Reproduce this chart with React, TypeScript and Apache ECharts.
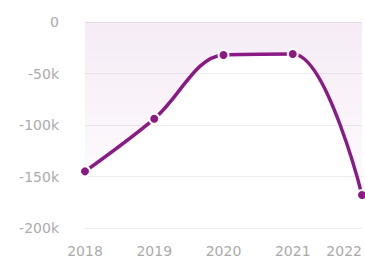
import React, { useEffect, useRef } from "react";
import * as echarts from "echarts";

const years = ["2018", "2019", "2020", "2021", "2022"];
const values = [-145000, -94000, -32000, -31000, -168000];
const yTicks = { min: -200000, max: 0, interval: 50000 };

export default function App() {
  const ref = useRef<HTMLDivElement>(null);
  useEffect(() => {
    if (!ref.current) return;
    const chart = echarts.init(ref.current, null, { renderer: "svg" });
    chart.setOption({
      animation: false,
      grid: { left: 85, right: 3, top: 22, bottom: 31 },
      xAxis: {
        type: "category",
        data: years,
        boundaryGap: false,
        axisLine: { show: false },
        axisTick: { show: false },
        axisLabel: {
          color: "#ababab",
          fontSize: 14,
          fontFamily: "DejaVu Sans",
          margin: 16,
          alignMaxLabel: "right",
        },
      },
      yAxis: {
        type: "value",
        min: yTicks.min,
        max: yTicks.max,
        interval: yTicks.interval,
        axisLine: { show: false },
        axisTick: { show: false },
        splitLine: { lineStyle: { color: "#eeeeee", width: 1 } },
        axisLabel: {
          color: "#ababab",
          fontSize: 14,
          fontFamily: "DejaVu Sans",
          margin: 26,
          formatter: (v: number) => (v === 0 ? "0" : v / 1000 + "k"),
        },
      },
      series: [
        {
          type: "line",
          data: values,
          smooth: 0.35,
          symbol: "circle",
          symbolSize: 10,
          itemStyle: { color: "#8a1a86", borderColor: "#ffffff", borderWidth: 2 },
          lineStyle: { color: "#8a1a86", width: 3.5 },
          areaStyle: {
            color: new echarts.graphic.LinearGradient(0, 0, 0, 1, [
              { offset: 0, color: "rgba(138,26,134,0.12)" },
              { offset: 1, color: "rgba(138,26,134,0.02)" },
            ]),
          },
        },
      ],
    });
    return () => chart.dispose();
  }, []);
  return <div ref={ref} style={{ width: 365, height: 259, position: "absolute", left: 0, top: 0 }} />;
}
